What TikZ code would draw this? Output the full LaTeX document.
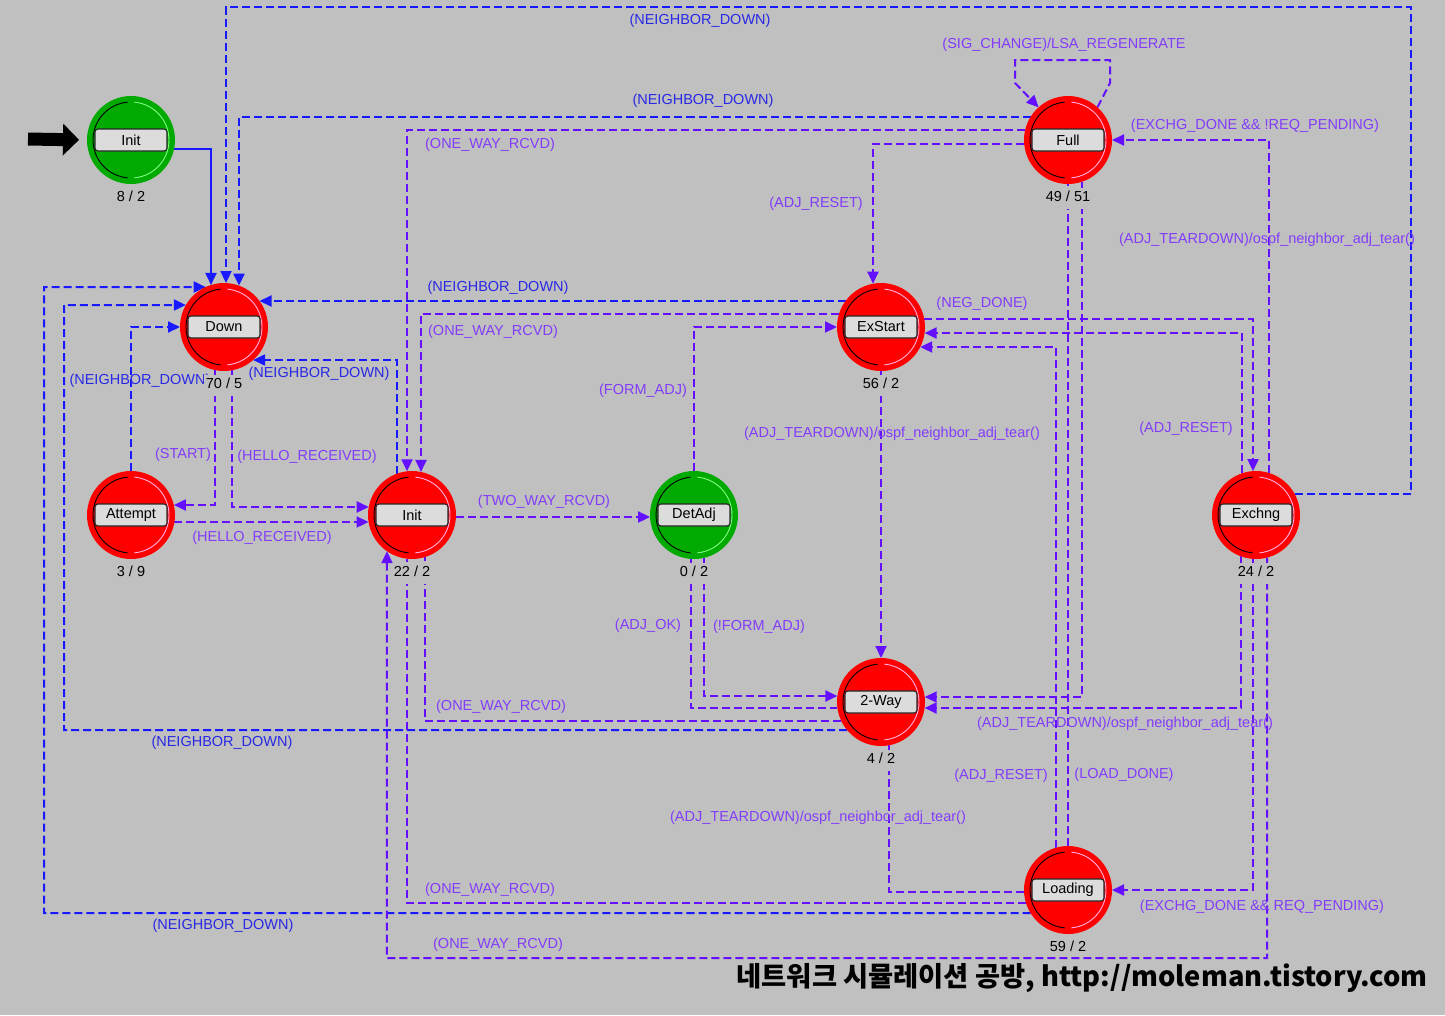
\documentclass[tikz,border=0pt]{standalone}
\usepackage{fontspec}
\setmainfont{Liberation Sans}
\newfontfamily\cjk{Noto Sans CJK KR}
\usetikzlibrary{arrows.meta}
\pgfdeclarelayer{back}
\pgfdeclarelayer{lines}
\pgfsetlayers{back,lines,main}
\definecolor{bgc}{RGB}{192,192,192}
\definecolor{bline}{RGB}{25,25,255}
\definecolor{pline}{RGB}{100,15,255}
\definecolor{ptext}{RGB}{130,60,250}
\definecolor{btext}{RGB}{40,40,230}
\definecolor{sred}{RGB}{255,0,0}
\definecolor{sgreen}{RGB}{0,170,0}
\definecolor{pinkarc}{RGB}{255,175,225}
\definecolor{greenarc}{RGB}{130,255,130}
\definecolor{boxfill}{RGB}{220,220,220}
\tikzset{
  stcirc/.style={circle, minimum size=88pt, inner sep=0pt, outer sep=0pt, draw=none},
  stbox/.style={rectangle, rounded corners=3pt, draw=black!85, line width=1.1pt, fill=boxfill,
    minimum width=72pt, minimum height=22pt, inner sep=0pt, font=\fontsize{14.5}{16}\selectfont},
  cnt/.style={fill=bgc, inner xsep=2pt, inner ysep=1pt, text height=12.5pt, text depth=7pt,
    anchor=base, font=\fontsize{14.5}{16}\selectfont},
  tline/.style={line width=2pt, dash pattern=on 8pt off 4pt},
  bl/.style={tline, draw=bline},
  pl/.style={tline, draw=pline},
  arr/.style={-{Triangle[length=12pt,width=11pt]}},
  lp/.style={text=ptext, inner sep=0pt, font=\fontsize{14.5}{16}\selectfont},
  lb/.style={lp, text=btext}
}
\newcommand{\fsmstate}[6]{%
  \node[stcirc, fill=#4] (#1) at (#2,-#3) {};
  \draw[line width=0.9pt, black] ([shift={(95:38pt)}]#1.center) arc[start angle=95, end angle=265, radius=38pt];
  \draw[line width=0.9pt, #5] ([shift={(-85:38pt)}]#1.center) arc[start angle=-85, end angle=85, radius=38pt];
  \node[stbox] at (#1.center) {#6};
}
\begin{document}
\begin{tikzpicture}[x=1pt,y=1pt]
\begin{pgfonlayer}{back}
\fill[bgc] (0,0) rectangle (1445,-1015);
\end{pgfonlayer}
\useasboundingbox (0,0) rectangle (1445,-1015);

% states
\fsmstate{init0}{131}{140}{sgreen}{greenarc}{Init}
\fsmstate{down}{224}{327}{sred}{pinkarc}{Down}
\fsmstate{attempt}{131}{515}{sred}{pinkarc}{Attempt}
\fsmstate{init}{412}{515}{sred}{pinkarc}{Init}
\fsmstate{detadj}{694}{515}{sgreen}{greenarc}{DetAdj}
\fsmstate{exstart}{881}{327}{sred}{pinkarc}{ExStart}
\fsmstate{full}{1068}{140}{sred}{pinkarc}{Full}
\fsmstate{exchng}{1256}{515}{sred}{pinkarc}{Exchng}
\fsmstate{twoway}{881}{702}{sred}{pinkarc}{2-Way}
\fsmstate{loading}{1068}{890}{sred}{pinkarc}{Loading}

% counters
\node[cnt] (k1) at (131,-201) {8 / 2};
\node[cnt] (k2) at (224,-388) {70 / 5};
\node[cnt] (k3) at (131,-576) {3 / 9};
\node[cnt] (k4) at (412,-576) {22 / 2};
\node[cnt] (k5) at (694,-576) {0 / 2};
\node[cnt] (k6) at (881,-388) {56 / 2};
\node[cnt] (k7) at (1068,-201) {49 / 51};
\node[cnt] (k8) at (1256,-576) {24 / 2};
\node[cnt] (k9) at (881,-763) {4 / 2};
\node[cnt, text depth=2pt] (k10) at (1068,-951) {59 / 2};

% entry arrow
\coordinate (entry) at (28,-139);
\draw[line width=13pt, -{Triangle[length=16pt,width=32pt,line width=0pt]}, shorten >=8pt] (entry) -- (init0.west);

\coordinate (xl1) at (44,0);
\coordinate (xl2) at (64,0);
\coordinate (xr) at (1411,0);
\coordinate (ytop) at (0,-7);
\coordinate (ybot) at (0,-958);

\begin{pgfonlayer}{lines}
% blue (NEIGHBOR_DOWN) transitions
\draw[line width=2pt, draw=bline, arr] ([shift={(43.07,-9)}]init0.center) -| ([shift={(-13,42.04)}]down.center);
\draw[bl, arr] ([shift={(38.67,21)}]exchng.center) -| (xr |- ytop) -| ([shift={(2,43.95)}]down.center);
\draw[bl, arr] ([shift={(-37.51,23)}]full.center) -| ([shift={(15,41.36)}]down.center);
\draw[bl, arr] ([shift={(-35.5,26)}]exstart.center) -- ([shift={(35.5,26)}]down.center);
\draw[bl, arr] ([shift={(-15,41.36)}]init.center) |- ([shift={(29.1,-33)}]down.center);
\draw[bl, arr] (attempt.north) |- (down.west);
\draw[bl, arr] ([shift={(-33.94,-28)}]twoway.center) -| (xl2 |- down.150) -- ([shift={(-38.11,22)}]down.center);
\draw[bl, arr] ([shift={(-37.51,-23)}]loading.center) -| (xl1 |- down.115) -- ([shift={(-18.33,40)}]down.center);

% purple transitions
\draw[pl, arr] ([shift={(-42.85,10)}]full.center) -| ([shift={(-5,43.71)}]init.center);
\draw[pl, arr] ([shift={(-43.82,-4)}]full.center) -| ([shift={(-8,43.27)}]exstart.center);
\draw[pl, arr] (full.48) -- (1110,-83) -- (1110,-60) -- (1015,-60) -- (1015,-83) -- (full.132);
\draw[pl, arr] ([shift={(13,42.04)}]exchng.center) |- (full.east);
\draw[pl, arr] ([shift={(14,-41.71)}]full.center) |- ([shift={(43.71,5)}]twoway.center);
\draw[pl] (loading.north) -- (full.south);
\draw[pl, arr] ([shift={(-12,42.33)}]loading.center) |- ([shift={(39.19,-20)}]exstart.center);
\draw[pl, arr] ([shift={(43.27,8)}]exstart.center) -| ([shift={(-3,43.9)}]exchng.center);
\draw[pl, arr] ([shift={(-14,41.71)}]exchng.center) |- ([shift={(43.59,-6)}]exstart.center);
\draw[pl, arr] ([shift={(-15,-41.36)}]exchng.center) |- ([shift={(43.59,-6)}]twoway.center);
\draw[pl, arr] ([shift={(-3,-43.9)}]exchng.center) |- (loading.east);
\draw[pl, arr] ([shift={(11,-42.6)}]exchng.center) |- (ybot -| init.-125) -- ([shift={(-25,-36.21)}]init.center);
\draw[pl] ([shift={(-42.04,-13)}]loading.center) -| ([shift={(-5,-43.71)}]init.center);
\draw[pl] ([shift={(-39.69,-19)}]twoway.center) -| ([shift={(13,-42.04)}]init.center);
\draw[pl] ([shift={(-3,-43.9)}]detadj.center) |- ([shift={(-43.59,-6)}]twoway.center);
\draw[pl, arr] ([shift={(10,-42.85)}]detadj.center) |- ([shift={(-43.59,6)}]twoway.center);
\draw[pl] ([shift={(-43.95,-2)}]loading.center) -| ([shift={(8,-43.27)}]twoway.center);
\draw[pl, arr] (exstart.south) -- (twoway.north);
\draw[pl, arr] (detadj.north) |- (exstart.west);
\draw[pl, arr] ([shift={(43.95,-2)}]init.center) -- ([shift={(-43.95,-2)}]detadj.center);
\draw[pl, arr] ([shift={(-42.04,13)}]exstart.center) -| ([shift={(9,43.07)}]init.center);
\draw[pl, arr] ([shift={(-9,-43.07)}]down.center) |- ([shift={(42.85,10)}]attempt.center);
\draw[pl, arr] ([shift={(8,-43.27)}]down.center) |- ([shift={(-43.27,8)}]init.center);
\draw[pl, arr] ([shift={(43.44,-7)}]attempt.center) -- ([shift={(-43.44,-7)}]init.center);

% labels
\node[lb] at (700,-21) {(NEIGHBOR\_DOWN)};
\node[lp] at (1064,-45) {(SIG\_CHANGE)/LSA\_REGENERATE};
\node[lb] at (703,-101) {(NEIGHBOR\_DOWN)};
\node[lp] at (1255,-126) {(EXCHG\_DONE \&\& !REQ\_PENDING)};
\node[lp] at (490,-145) {(ONE\_WAY\_RCVD)};
\node[lp] at (816,-204) {(ADJ\_RESET)};
\node[lp] at (1267,-240) {(ADJ\_TEARDOWN)/ospf\_neighbor\_adj\_tear()};
\node[lb] at (498,-288) {(NEIGHBOR\_DOWN)};
\node[lp] at (982,-304) {(NEG\_DONE)};
\node[lp] at (493,-332) {(ONE\_WAY\_RCVD)};
\node[lb] at (319,-374) {(NEIGHBOR\_DOWN)};
\node[lb] at (140,-381) {(NEIGHBOR\_DOWN)};
\node[lp] at (643,-391) {(FORM\_ADJ)};
\node[lp] at (1186,-429) {(ADJ\_RESET)};
\node[lp] at (892,-434) {(ADJ\_TEARDOWN)/ospf\_neighbor\_adj\_tear()};
\node[lp] at (183,-455) {(START)};
\node[lp] at (307,-457) {(HELLO\_RECEIVED)};
\node[lp] at (544,-502) {(TWO\_WAY\_RCVD)};
\node[lp] at (262,-538) {(HELLO\_RECEIVED)};
\node[lp] at (648,-626) {(ADJ\_OK)};
\node[lp] at (759,-627) {(!FORM\_ADJ)};
\node[lp] at (501,-707) {(ONE\_WAY\_RCVD)};
\node[lp] at (1125,-724) {(ADJ\_TEARDOWN)/ospf\_neighbor\_adj\_tear()};
\node[lb] at (222,-743) {(NEIGHBOR\_DOWN)};
\node[lp] at (1001,-776) {(ADJ\_RESET)};
\node[lp] at (1124,-775) {(LOAD\_DONE)};
\node[lp] at (818,-818) {(ADJ\_TEARDOWN)/ospf\_neighbor\_adj\_tear()};
\node[lp] at (490,-890) {(ONE\_WAY\_RCVD)};
\node[lp] at (1262,-907) {(EXCHG\_DONE \&\& REQ\_PENDING)};
\node[lb] at (223,-926) {(NEIGHBOR\_DOWN)};
\node[lp] at (498,-945) {(ONE\_WAY\_RCVD)};
\end{pgfonlayer}

\node[anchor=east, inner sep=0pt, font=\cjk\bfseries\fontsize{27.3}{30}\selectfont] (wm) at (1428,-978)
  {네트워크 시뮬레이션 공방, http://moleman.tistory.com};
\end{tikzpicture}
\end{document}
